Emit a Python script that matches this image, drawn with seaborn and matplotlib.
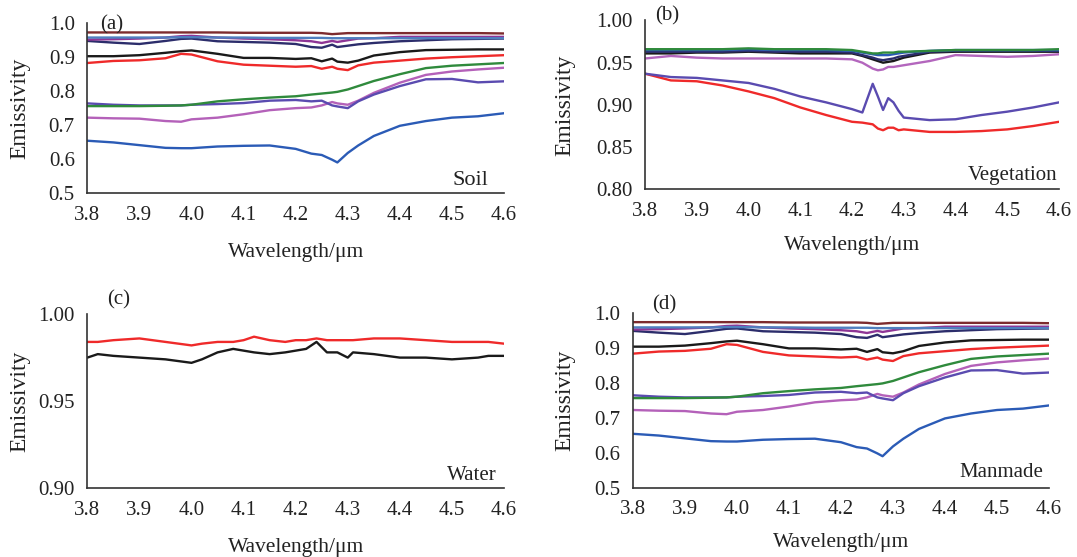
import numpy as np
import pandas as pd
import matplotlib
matplotlib.use("Agg")
import matplotlib.pyplot as plt
import seaborn as sns

# ---------------- data ----------------
# Soil (a) / Manmade (d) spectra (same set of curves)
soil_wl = [3.80, 3.85, 3.90, 3.95, 3.98, 4.00, 4.05, 4.10, 4.15, 4.20, 4.23,
           4.25, 4.27, 4.28, 4.30, 4.32, 4.35, 4.40, 4.45, 4.50, 4.55, 4.60]
soil_maroon = [0.973, 0.973, 0.973, 0.973, 0.973, 0.973, 0.973, 0.972, 0.972, 0.972, 0.972,
               0.971, 0.968, 0.969, 0.971, 0.971, 0.971, 0.971, 0.971, 0.971, 0.971, 0.970]
soil_steel = [0.958, 0.958, 0.958, 0.958, 0.959, 0.959, 0.958, 0.958, 0.957, 0.957, 0.957,
              0.957, 0.956, 0.956, 0.956, 0.956, 0.956, 0.956, 0.956, 0.956, 0.956, 0.956]
soil_purple = [0.952, 0.953, 0.955, 0.958, 0.962, 0.963, 0.958, 0.955, 0.953, 0.950, 0.947,
               0.942, 0.948, 0.945, 0.950, 0.955, 0.956, 0.960, 0.960, 0.960, 0.960, 0.960]
soil_navy = [0.948, 0.943, 0.939, 0.948, 0.954, 0.955, 0.947, 0.945, 0.943, 0.939, 0.930,
             0.928, 0.937, 0.930, 0.934, 0.938, 0.942, 0.947, 0.950, 0.953, 0.954, 0.955]
soil_black = [0.903, 0.903, 0.906, 0.913, 0.918, 0.920, 0.910, 0.898, 0.898, 0.895, 0.897,
              0.888, 0.896, 0.887, 0.884, 0.890, 0.905, 0.915, 0.921, 0.922, 0.923, 0.923]
soil_red = [0.883, 0.889, 0.891, 0.897, 0.910, 0.908, 0.888, 0.878, 0.875, 0.872, 0.874,
            0.866, 0.872, 0.866, 0.862, 0.876, 0.884, 0.890, 0.896, 0.900, 0.903, 0.906]
soil_green = [0.756, 0.756, 0.756, 0.757, 0.758, 0.760, 0.770, 0.776, 0.781, 0.785, 0.790,
              0.793, 0.796, 0.798, 0.805, 0.815, 0.830, 0.850, 0.868, 0.875, 0.879, 0.883]
soil_pink = [0.722, 0.720, 0.719, 0.712, 0.710, 0.717, 0.722, 0.732, 0.744, 0.750, 0.752,
             0.758, 0.768, 0.764, 0.760, 0.772, 0.795, 0.825, 0.848, 0.858, 0.864, 0.869]
soil_slate = [0.764, 0.760, 0.758, 0.758, 0.758, 0.760, 0.762, 0.765, 0.772, 0.774, 0.770,
              0.772, 0.758, 0.755, 0.750, 0.770, 0.790, 0.815, 0.835, 0.836, 0.826, 0.829]
soil_blue = [0.654, 0.649, 0.641, 0.633, 0.632, 0.632, 0.637, 0.639, 0.640, 0.630, 0.616,
             0.612, 0.598, 0.590, 0.618, 0.640, 0.668, 0.698, 0.712, 0.722, 0.726, 0.735]

# Vegetation (b)
veg_wl = [3.80, 3.85, 3.90, 3.95, 4.00, 4.05, 4.10, 4.15, 4.20, 4.22, 4.24, 4.25,
          4.26, 4.27, 4.28, 4.29, 4.30, 4.35, 4.40, 4.45, 4.50, 4.55, 4.60]
veg_green = [0.966, 0.966, 0.966, 0.966, 0.967, 0.966, 0.966, 0.966, 0.965, 0.963, 0.961, 0.961,
             0.962, 0.962, 0.962, 0.963, 0.963, 0.964, 0.965, 0.965, 0.965, 0.965, 0.966]
veg_blue = [0.965, 0.965, 0.965, 0.965, 0.966, 0.965, 0.965, 0.965, 0.964, 0.962, 0.960, 0.959,
            0.959, 0.959, 0.960, 0.961, 0.962, 0.964, 0.965, 0.965, 0.965, 0.965, 0.965]
veg_navy = [0.963, 0.963, 0.963, 0.963, 0.964, 0.963, 0.963, 0.963, 0.962, 0.959, 0.956, 0.954,
            0.953, 0.954, 0.955, 0.957, 0.958, 0.963, 0.964, 0.964, 0.964, 0.964, 0.964]
veg_black = [0.961, 0.961, 0.962, 0.962, 0.963, 0.962, 0.961, 0.961, 0.961, 0.958, 0.954, 0.952,
             0.950, 0.951, 0.952, 0.954, 0.956, 0.962, 0.963, 0.963, 0.963, 0.963, 0.963]
veg_purple = [0.955, 0.958, 0.956, 0.955, 0.955, 0.955, 0.955, 0.955, 0.954, 0.950, 0.943, 0.941,
              0.942, 0.945, 0.945, 0.946, 0.947, 0.952, 0.959, 0.958, 0.957, 0.958, 0.960]
veg_slate = [0.937, 0.933, 0.932, 0.929, 0.926, 0.919, 0.910, 0.903, 0.895, 0.891, 0.925, 0.910,
             0.894, 0.908, 0.903, 0.893, 0.885, 0.882, 0.883, 0.888, 0.892, 0.897, 0.903]
veg_red = [0.937, 0.929, 0.928, 0.923, 0.916, 0.908, 0.897, 0.888, 0.880, 0.879, 0.877, 0.872,
           0.870, 0.873, 0.873, 0.870, 0.871, 0.868, 0.868, 0.869, 0.871, 0.875, 0.880]

# Water (c)
water_wl = [3.80, 3.82, 3.85, 3.90, 3.95, 4.00, 4.02, 4.05, 4.08, 4.10, 4.12, 4.15, 4.18, 4.20,
            4.22, 4.24, 4.26, 4.28, 4.30, 4.31, 4.35, 4.40, 4.45, 4.50, 4.55, 4.57, 4.60]
water_red = [0.984, 0.984, 0.985, 0.986, 0.984, 0.982, 0.983, 0.984, 0.984, 0.985, 0.987, 0.985,
             0.984, 0.985, 0.985, 0.986, 0.985, 0.985, 0.985, 0.985, 0.986, 0.986, 0.985, 0.984,
             0.984, 0.984, 0.983]
water_black = [0.975, 0.977, 0.976, 0.975, 0.974, 0.972, 0.974, 0.978, 0.980, 0.979, 0.978, 0.977,
               0.978, 0.979, 0.980, 0.984, 0.978, 0.978, 0.975, 0.978, 0.977, 0.975, 0.975, 0.974,
               0.975, 0.976, 0.976]

x_ticks = [3.8, 3.9, 4.0, 4.1, 4.2, 4.3, 4.4, 4.5, 4.6]
x_ticklabels = ["3.8", "3.9", "4.0", "4.1", "4.2", "4.3", "4.4", "4.5", "4.6"]
soil_yticks = [0.5, 0.6, 0.7, 0.8, 0.9, 1.0]
soil_yticklabels = ["0.5", "0.6", "0.7", "0.8", "0.9", "1.0"]
veg_yticks = [0.80, 0.85, 0.90, 0.95, 1.00]
veg_yticklabels = ["0.80", "0.85", "0.90", "0.95", "1.00"]
water_yticks = [0.90, 0.95, 1.00]
water_yticklabels = ["0.90", "0.95", "1.00"]

# ---------------- style ----------------
sns.set_style("white")
plt.rcParams["font.family"] = ["Liberation Serif", "DejaVu Serif"]

C = {
    "maroon": "#7d2b2e", "steel": "#4f7fbf", "purple": "#8e3596", "navy": "#2c2d6b",
    "black": "#1a1a1a", "red": "#ef2a2a", "green": "#2f8a3c", "pink": "#b461b9",
    "slate": "#5a4bb0", "blue": "#2b5bb6", "vpurple": "#b366bd",
}

soil_series = [
    ("blue", soil_blue), ("pink", soil_pink), ("slate", soil_slate), ("green", soil_green),
    ("red", soil_red), ("black", soil_black), ("navy", soil_navy), ("purple", soil_purple),
    ("steel", soil_steel), ("maroon", soil_maroon),
]
veg_series = [
    ("red", veg_red), ("slate", veg_slate), ("vpurple", veg_purple), ("black", veg_black),
    ("navy", veg_navy), ("blue", veg_blue), ("green", veg_green),
]
water_series = [("black", water_black), ("red", water_red)]


def draw(ax, wl, series):
    frames = []
    for name, vals in series:
        frames.append(pd.DataFrame({"wl": wl, "e": vals, "s": name}))
    df = pd.concat(frames, ignore_index=True)
    pal = {name: C[name] for name, _ in series}
    sns.lineplot(data=df, x="wl", y="e", hue="s", palette=pal, hue_order=[n for n, _ in series],
                 estimator=None, sort=False, linewidth=1.7, legend=False, ax=ax)


def style(ax, yticks, yticklabels, ylim, xpad, ylab_x):
    ax.set_xlim(3.8, 4.6)
    ax.set_ylim(*ylim)
    ax.set_xticks(x_ticks)
    ax.set_xticklabels(x_ticklabels)
    ax.set_yticks(yticks)
    ax.set_yticklabels(yticklabels)
    for s in ("top", "right"):
        ax.spines[s].set_visible(False)
    for s in ("left", "bottom"):
        ax.spines[s].set_color("#333333")
        ax.spines[s].set_linewidth(1.2)
    ax.tick_params(direction="in", length=5, width=1.1, colors="#333333",
                   labelsize=15, labelcolor="#222222", pad=9)
    ax.set_xlabel("Wavelength/μm", fontsize=15.5, color="#222222", labelpad=xpad)
    ax.set_ylabel("Emissivity", fontsize=17, color="#222222")
    ax.yaxis.set_label_coords(ylab_x, 0.5)


fig = plt.figure(figsize=(10.77, 5.57), dpi=100)
ax_a = fig.add_axes([0.0811, 0.6535, 0.3869, 0.3047])
ax_b = fig.add_axes([0.5989, 0.6601, 0.3844, 0.3031])
ax_c = fig.add_axes([0.0811, 0.1233, 0.3869, 0.3129])
ax_d = fig.add_axes([0.5877, 0.1244, 0.3863, 0.3142])

draw(ax_a, soil_wl, soil_series)
style(ax_a, soil_yticks, soil_yticklabels, (0.5, 1.0), 13, -0.1375)
draw(ax_b, veg_wl, veg_series)
style(ax_b, veg_yticks, veg_yticklabels, (0.80, 1.00), 11, -0.169)
draw(ax_c, water_wl, water_series)
style(ax_c, water_yticks, water_yticklabels, (0.90, 1.00), 13, -0.1375)
draw(ax_d, soil_wl, soil_series)
style(ax_d, soil_yticks, soil_yticklabels, (0.5, 1.0), 10, -0.139)

tkw = dict(fontsize=15, color="#222222")
ax_a.text(0.059, 0.99, "(a)", transform=ax_a.transAxes, ha="center", va="center", **tkw)
ax_a.text(0.962, 0.047, "Soil", transform=ax_a.transAxes, ha="right", va="baseline",
          fontsize=16, color="#222222")
ax_b.text(0.053, 1.027, "(b)", transform=ax_b.transAxes, ha="center", va="center", **tkw)
ax_b.text(0.997, 0.055, "Vegetation", transform=ax_b.transAxes, ha="right", va="baseline", **tkw)
ax_c.text(0.075, 1.08, "(c)", transform=ax_c.transAxes, ha="center", va="center", **tkw)
ax_c.text(0.983, 0.048, "Water", transform=ax_c.transAxes, ha="right", va="baseline", **tkw)
ax_d.text(0.076, 1.047, "(d)", transform=ax_d.transAxes, ha="center", va="center", **tkw)
ax_d.text(0.986, 0.061, "Manmade", transform=ax_d.transAxes, ha="right", va="baseline", **tkw)

fig.savefig("out.png", dpi=100)
